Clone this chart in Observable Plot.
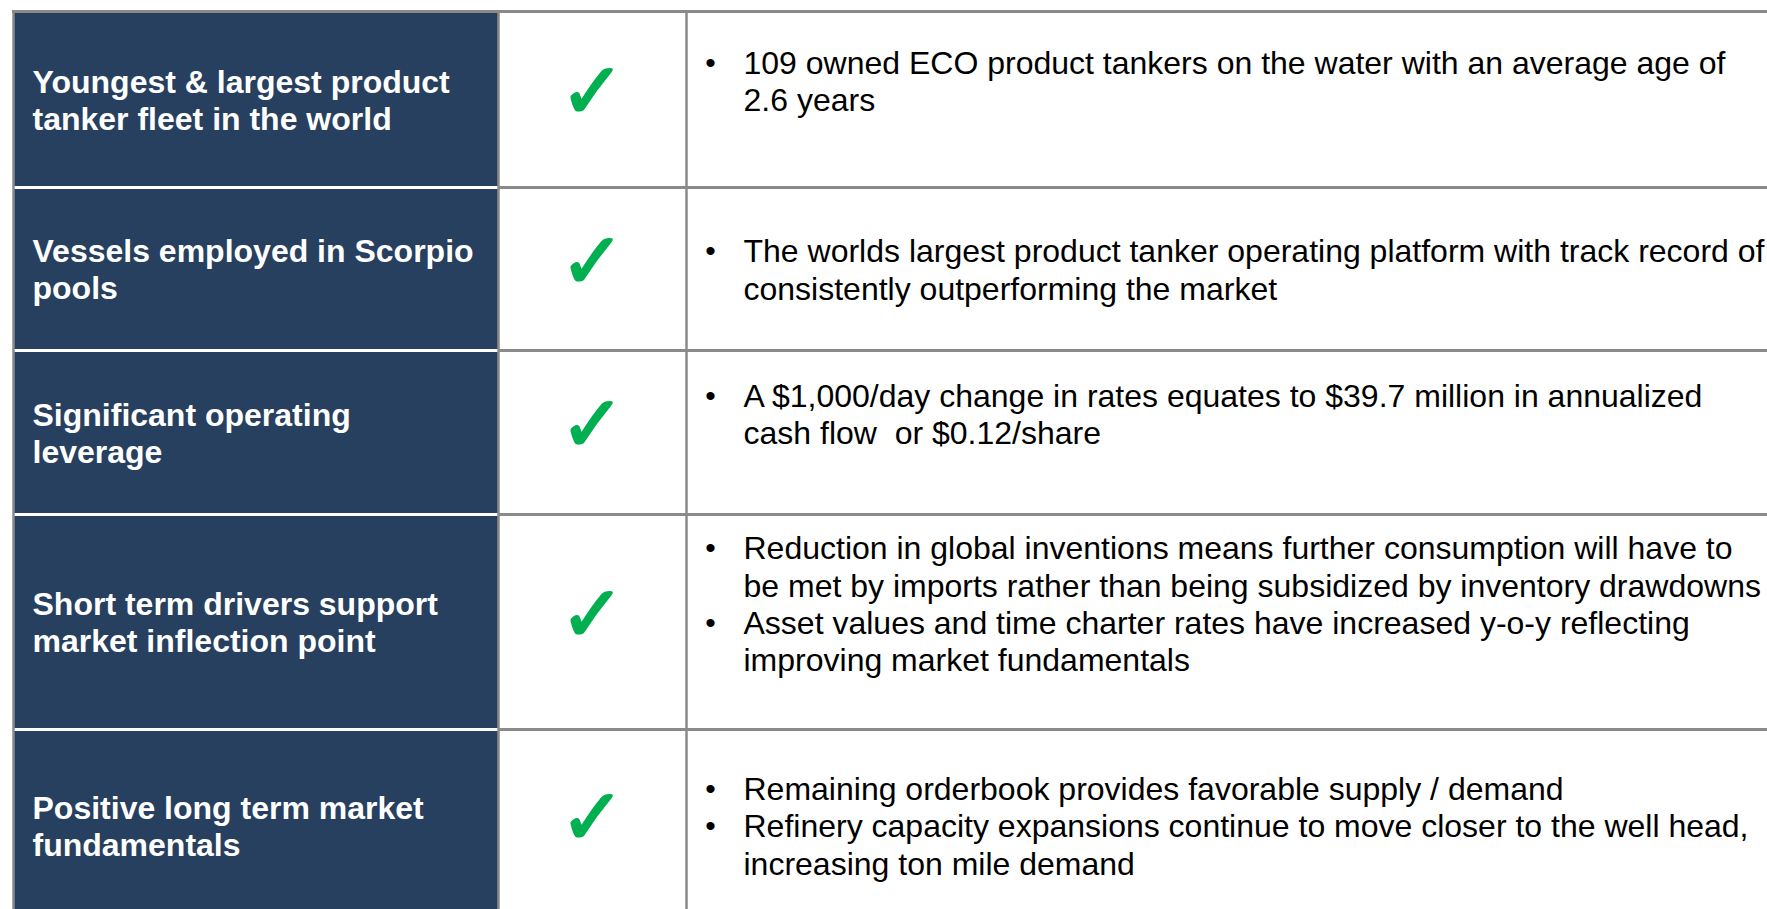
<!DOCTYPE html>
<html>
<head>
<meta charset="utf-8">
<script src="https://cdn.jsdelivr.net/npm/d3@7"></script>
<script src="https://cdn.jsdelivr.net/npm/@observablehq/plot@0.6"></script>
<style>
  html, body { margin: 0; padding: 0; background: #ffffff; }
  #chart svg text { white-space: pre; }
</style>
</head>
<body>
<div id="chart"></div>
<script>
// ---------- DATA ----------
const features = [
  "Youngest & largest product\ntanker fleet in the world",
  "Vessels employed in Scorpio\npools",
  "Significant operating\nleverage",
  "Short term drivers support\nmarket inflection point",
  "Positive long term market\nfundamentals"
];
const checked = [true, true, true, true, true];
// each row: list of bullets, each bullet as its wrapped lines
const details = [
  [["109 owned ECO product tankers on the water with an average age of", "2.6 years"]],
  [["The worlds largest product tanker operating platform with track record of", "consistently outperforming the market"]],
  [["A $1,000/day change in rates equates to $39.7 million in annualized", "cash flow  or $0.12/share"]],
  [["Reduction in global inventions means further consumption will have to", "be met by imports rather than being subsidized by inventory drawdowns"],
   ["Asset values and time charter rates have increased y-o-y reflecting", "improving market fundamentals"]],
  [["Remaining orderbook provides favorable supply / demand"],
   ["Refinery capacity expansions continue to move closer to the well head,", "increasing ton mile demand"]]
];
// trailing empty paragraph in the cell
const emptyLastParagraph = [true, false, true, true, false];

// ---------- LAYOUT ----------
const W = 1767, H = 909;
const tableTop = 11;
const rowHeights = [176, 163, 164, 215, 192];
const colEdges = [13, 498, 686];          // left border, after feature col, after check col
const navy = "#27405F", green = "#00B050", grid = "#8A8A8A";
const fontMain = "'Liberation Sans', Arial, Helvetica, sans-serif";
const bodySize = 32, bodyLH = 1.17, bulletSize = 30;

const tops = [tableTop];
rowHeights.forEach((h, i) => tops.push(tops[i] + h));

const rows = features.map((f, i) => {
  const lines = [], bullets = [];
  details[i].forEach(b => b.forEach((ln, k) => { lines.push(ln); bullets.push(k === 0 ? "•" : ""); }));
  if (emptyLastParagraph[i]) { lines.push(""); bullets.push(""); }
  return {
    feature: f,
    check: checked[i] ? "✓" : "",
    detail: lines.join("\n"),
    bullet: bullets.join("\n"),
    y1: tops[i], y2: tops[i + 1], yc: (tops[i] + tops[i + 1]) / 2
  };
});
const innerBounds = tops.slice(1, -1);

const chart = Plot.plot({
  width: W, height: H,
  margin: 0,
  x: {type: "identity", axis: null},
  y: {type: "identity", axis: null},
  style: {fontFamily: fontMain, background: "#ffffff"},
  marks: [
    Plot.rect(rows, {x1: colEdges[0], x2: colEdges[1], y1: "y1", y2: "y2", fill: navy}),
    Plot.ruleY(innerBounds, {x1: colEdges[0], x2: colEdges[1], stroke: "#ffffff", strokeWidth: 3}),
    Plot.ruleY(innerBounds, {x1: colEdges[1], x2: W, stroke: grid, strokeWidth: 3}),
    Plot.ruleY([tableTop], {x1: colEdges[0] - 1, x2: W, stroke: grid, strokeWidth: 3}),
    Plot.ruleX(colEdges, {y1: tableTop, y2: H, stroke: grid, strokeWidth: 2.5}),
    Plot.text(rows, {
      x: colEdges[0] + 19, y: "yc", text: "feature",
      textAnchor: "start", lineAnchor: "middle", lineHeight: 1.16,
      fill: "#ffffff", fontWeight: "bold", fontSize: 32
    }),
    Plot.text(rows, {
      x: (colEdges[1] + colEdges[2]) / 2, y: "yc", text: "check",
      textAnchor: "middle", lineAnchor: "middle", dy: -6,
      fill: green, stroke: green, strokeWidth: 2, strokeLinejoin: "round",
      fontSize: 78, fontFamily: "DejaVu Sans"
    }),
    Plot.text(rows, {
      x: colEdges[2] + 24, y: "yc", text: "bullet",
      textAnchor: "middle", lineAnchor: "middle", lineHeight: bodyLH * bodySize / bulletSize, dy: -1,
      fill: "#000000", fontSize: bulletSize
    }),
    Plot.text(rows, {
      x: colEdges[2] + 57, y: "yc", text: "detail",
      textAnchor: "start", lineAnchor: "middle", lineHeight: bodyLH,
      fill: "#000000", fontSize: bodySize
    })
  ]
});
document.getElementById("chart").appendChild(chart);
</script>
</body>
</html>
